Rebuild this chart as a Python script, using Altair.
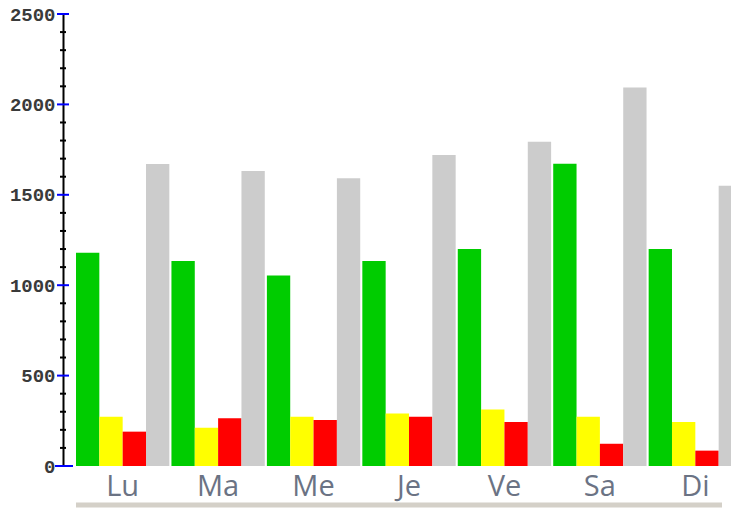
import altair as alt
import pandas as pd

days = ["Lu", "Ma", "Me", "Je", "Ve", "Sa", "Di"]
series = ["vert", "jaune", "rouge", "gris"]
colors = ["#00cc00", "#ffff00", "#ff0000", "#cccccc"]

vert = [1180, 1134, 1053, 1134, 1200, 1672, 1200]
jaune = [273, 212, 273, 291, 312, 273, 243]
rouge = [190, 264, 254, 273, 243, 123, 85]
gris = [1670, 1632, 1591, 1720, 1794, 2094, 1550]

major_ticks = [0, 500, 1000, 1500, 2000, 2500]
minor_ticks = [v for v in range(0, 2501, 100) if v % 500 != 0]

rows = []
for name, vals in zip(series, [vert, jaune, rouge, gris]):
    for d, v in zip(days, vals):
        rows.append({"jour": d, "serie": name, "valeur": v})
df = pd.DataFrame(rows)

W, H = 668, 452
yscale = alt.Scale(domain=[0, 2500], nice=False, zero=True)

bars = alt.Chart(df).mark_bar(clip=True, stroke=None).encode(
    x=alt.X("jour:N", sort=days, title=None,
            scale=alt.Scale(range=[13, 679], paddingInner=0.022, paddingOuter=0),
            axis=alt.Axis(domain=False, ticks=False, labelAngle=0,
                          labelFont="Open Sans", labelFontSize=29,
                          labelColor="#6b7384", labelPadding=6)),
    xOffset=alt.XOffset("serie:N", sort=series,
                        scale=alt.Scale(paddingInner=0, paddingOuter=0)),
    y=alt.Y("valeur:Q", scale=yscale, title=None,
            axis=alt.Axis(values=major_ticks, grid=False, ticks=False,
                          format="d",
                          domainColor="#000000", domainWidth=2,
                          labelFont="Liberation Mono", labelFontWeight="bold",
                          labelFontSize=19, labelColor="#3a3a3a",
                          labelPadding=8)),
    color=alt.Color("serie:N", sort=series,
                    scale=alt.Scale(domain=series, range=colors), legend=None),
)

minor = alt.Chart(pd.DataFrame({"v": minor_ticks})).mark_rule(
    color="#000000", strokeWidth=2
).encode(y=alt.Y("v:Q", scale=yscale), x=alt.value(-3), x2=alt.value(3))

major = alt.Chart(pd.DataFrame({"v": major_ticks[1:]})).mark_rule(
    color="#0000ff", strokeWidth=2
).encode(y=alt.Y("v:Q", scale=yscale), x=alt.value(-6), x2=alt.value(6))

zero = alt.Chart(pd.DataFrame({"v": major_ticks[:1]})).mark_rule(
    color="#0000ff", strokeWidth=2
).encode(y=alt.Y("v:Q", scale=yscale), x=alt.value(-8), x2=alt.value(10))

base_line = alt.Chart(pd.DataFrame({"v": [0]})).mark_rule(
    color="#d4d0c8", strokeWidth=5
).encode(y=alt.value(H + 39), x=alt.value(13), x2=alt.value(659))

chart = alt.layer(bars, minor, major, zero, base_line).properties(
    width=W, height=H,
    autosize=alt.AutoSizeParams(type="none"),
    padding={"left": 55, "top": 6, "right": 0, "bottom": 42},
).configure_view(stroke=None).configure_axis(labelFlush=False)

chart.save("out.html", embed_options={"renderer": "svg", "actions": False})
